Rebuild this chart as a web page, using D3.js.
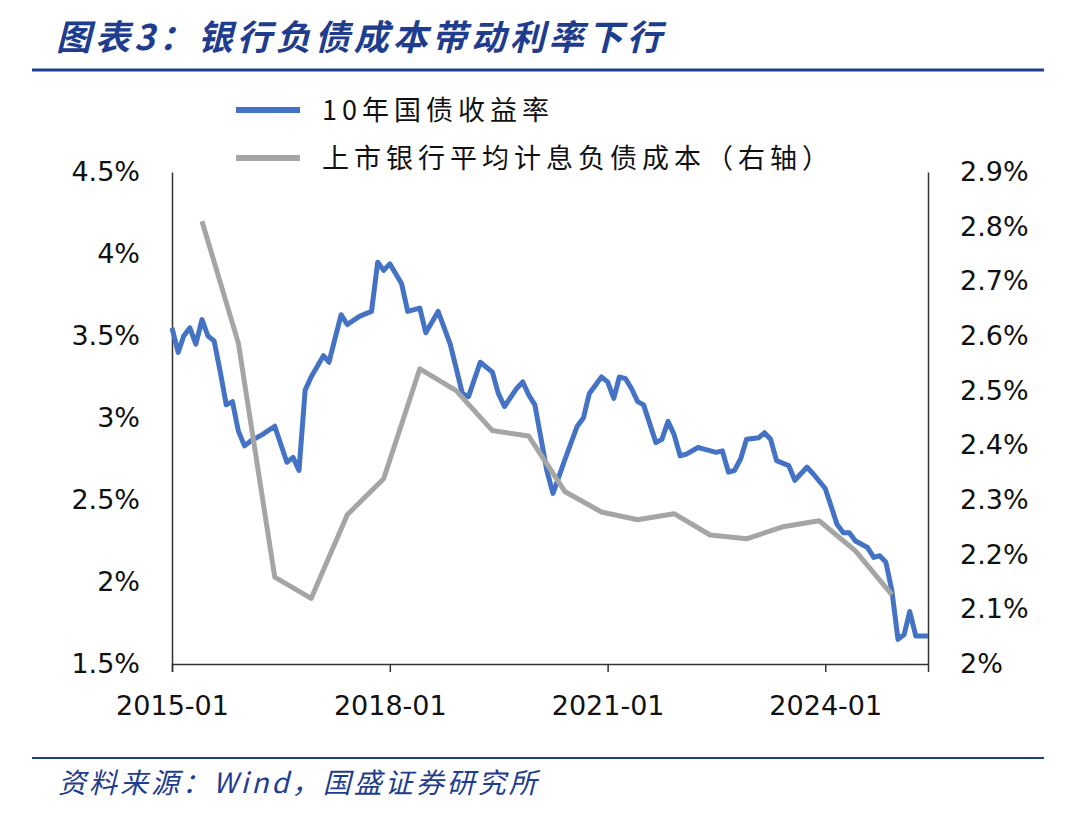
<!DOCTYPE html>
<html><head><meta charset="utf-8">
<script src="https://cdn.jsdelivr.net/npm/d3@7"></script>
<style>body{margin:0;background:#fff;}svg text{font-family:"DejaVu Sans",Verdana,sans-serif;}</style>
</head><body>
<svg id="chart" width="1080" height="814"></svg>
<script>
// 10年国债收益率: months since 2015-01, value (%)
const bondMonths = [0,1,2,3,4,5,6,7,8,9,10,11,12,13,15,17,19,20,21,22,23,25,26,28,29,31,33,34,35,36,38,39,41,42,44,46,48,49,51,53,54,55,57,58,59,60,62,63,65,67,68,69,71,72,73,74,75,76,77,78,80,81,82,83,84,85,87,88,90,91,92,93,94,95,97,98,99,100,102,103,105,106,108,110,111,112,113,115,116,117,118,119,120,121,122,123,125];
const bondYield = [3.55,3.40,3.50,3.55,3.45,3.60,3.50,3.47,3.28,3.08,3.10,2.92,2.83,2.86,2.90,2.95,2.73,2.76,2.68,3.17,3.25,3.38,3.34,3.63,3.57,3.62,3.65,3.95,3.90,3.94,3.82,3.65,3.67,3.52,3.65,3.45,3.15,3.13,3.34,3.28,3.15,3.07,3.18,3.22,3.14,3.08,2.68,2.54,2.75,2.95,3.00,3.15,3.25,3.22,3.12,3.25,3.24,3.18,3.10,3.08,2.85,2.87,2.98,2.90,2.77,2.78,2.82,2.81,2.79,2.80,2.67,2.68,2.75,2.87,2.88,2.91,2.87,2.74,2.71,2.62,2.70,2.66,2.57,2.35,2.30,2.30,2.25,2.21,2.15,2.16,2.12,1.95,1.65,1.68,1.82,1.67,1.67];
// 上市银行平均计息负债成本（右轴）
const costDates = ["2015-06","2015-12","2016-06","2016-12","2017-06","2017-12","2018-06","2018-12","2019-06","2019-12","2020-06","2020-12","2021-06","2021-12","2022-06","2022-12","2023-06","2023-12","2024-06","2024-12"];
const costValues = [2.81,2.587,2.159,2.12,2.273,2.339,2.54,2.50,2.427,2.417,2.315,2.278,2.264,2.275,2.236,2.229,2.251,2.262,2.207,2.127];
const leftTicks = [1.5,2,2.5,3,3.5,4,4.5];
const rightTicks = [2.0,2.1,2.2,2.3,2.4,2.5,2.6,2.7,2.8,2.9];
const xTicks = ["2015-01","2018-01","2021-01","2024-01"];

const svg = d3.select('#chart');
const navy = '#1f3d8f';
const parse = d3.timeParse('%Y-%m');
const monthDate = m => new Date(2015, m, 1);

const x = d3.scaleTime().domain([parse('2015-01'), monthDate(125)]).range([172, 928]);
const yL = d3.scaleLinear().domain([1.5, 4.5]).range([664, 172]);
const yR = d3.scaleLinear().domain([2.0, 2.9]).range([664, 172]);

// title
svg.append('text').attr('x', 56).attr('y', 50).attr('fill', navy)
  .attr('font-size', 35).attr('font-weight', 'bold').attr('font-style', 'italic').attr('letter-spacing', 4)
  .style('font-family', '"Noto Sans CJK SC",sans-serif').text('图表3：银行负债成本带动利率下行');
svg.append('line').attr('x1', 32).attr('x2', 1044).attr('y1', 70).attr('y2', 70).attr('stroke', navy).attr('stroke-width', 3);
svg.append('line').attr('x1', 32).attr('x2', 1044).attr('y1', 758).attr('y2', 758).attr('stroke', navy).attr('stroke-width', 2);
svg.append('text').attr('x', 58).attr('y', 793).attr('fill', navy).attr('font-size', 28).attr('font-style', 'italic').attr('letter-spacing', 3)
  .style('font-family', '"Noto Sans CJK SC",sans-serif').text('资料来源：Wind，国盛证券研究所');

// axes
const fmtL = d => d3.format('~g')(d) + '%';
const gL = svg.append('g').attr('transform', 'translate(172,0)')
  .call(d3.axisLeft(yL).tickValues(leftTicks).tickFormat(fmtL).tickSize(0).tickPadding(32));
const gR = svg.append('g').attr('transform', 'translate(928,0)')
  .call(d3.axisRight(yR).tickValues(rightTicks).tickFormat(d => (d === 2 ? '2' : d.toFixed(1)) + '%').tickSize(0).tickPadding(32));
const gX = svg.append('g').attr('transform', 'translate(0,664)')
  .call(d3.axisBottom(x).tickValues(xTicks.map(parse)).tickFormat(d3.timeFormat('%Y-%m')).tickSize(8).tickPadding(24));
[gL, gR, gX].forEach(g => {
  g.selectAll('path,line').attr('stroke', '#333').attr('stroke-width', 1.5);
  g.selectAll('text').attr('font-size', 27).attr('fill', '#111');
});

// lines
svg.append('path').datum(bondMonths.map((m, i) => [monthDate(m), bondYield[i]]))
  .attr('fill', 'none').attr('stroke', '#4472c4').attr('stroke-width', 5).attr('stroke-linejoin', 'round')
  .attr('d', d3.line().x(d => x(d[0])).y(d => yL(d[1])));
svg.append('path').datum(costDates.map((d, i) => [parse(d), costValues[i]]))
  .attr('fill', 'none').attr('stroke', '#a5a5a5').attr('stroke-width', 5).attr('stroke-linejoin', 'round')
  .attr('d', d3.line().x(d => x(d[0])).y(d => yR(d[1])));

// legend
const legend = [['10年国债收益率', '#4472c4', 110], ['上市银行平均计息负债成本（右轴）', '#a5a5a5', 158]];
legend.forEach(([t, c, y]) => {
  svg.append('line').attr('x1', 236).attr('x2', 300).attr('y1', y).attr('y2', y).attr('stroke', c).attr('stroke-width', 6);
  svg.append('text').attr('x', 322).attr('y', y + 10).attr('font-size', 27).attr('letter-spacing', 5).attr('fill', '#111')
    .style('font-family', '"Noto Sans CJK SC",sans-serif').text(t);
});
</script>
</body></html>
